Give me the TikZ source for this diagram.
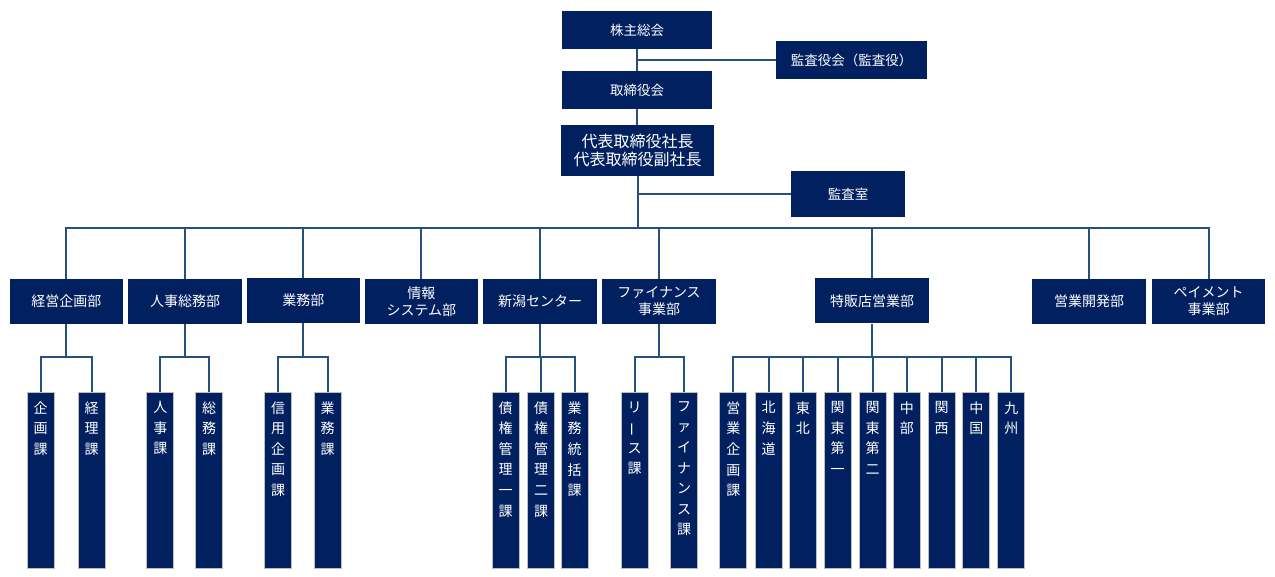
\documentclass[tikz,border=0pt]{standalone}
\usepackage{fontspec}
\usepackage{graphicx}
\newfontfamily\jp{Noto Sans CJK JP}
\definecolor{navy}{RGB}{0,32,96}
\definecolor{linec}{RGB}{38,80,125}
\definecolor{bord}{RGB}{190,190,190}
\newcommand\vbar{\rotatebox[origin=c]{90}{ー}}
\begin{document}
\begin{tikzpicture}[x=1pt,y=-1pt,
  box/.style={fill=navy, draw=none, text=white, inner sep=0pt, align=center, font=\jp\fontsize{13.5}{17}\selectfont},
  dept/.style={box, minimum width=113.5pt, minimum height=45pt, font=\jp\fontsize{14}{17}\selectfont},
  subbox/.style={fill=navy, draw=bord, line width=1pt, minimum width=27pt, minimum height=176.5pt, inner sep=0pt},
  vtext/.style={text=white, anchor=north, inner sep=0pt, align=center, font=\jp\fontsize{14}{20.6}\selectfont},
  conn/.style={draw=linec, line width=2pt, line join=miter}]
\useasboundingbox (0,0) rectangle (1275,577);
\fill[white] (0,0) rectangle (1275,577);

% top
\node[box, minimum width=150pt, minimum height=38pt] (kabu) at (637,30) {株主総会};
\node[box, minimum width=151pt, minimum height=38pt] (kansayaku) at (851.5,60) {監査役会（監査役）};
\node[box, minimum width=150pt, minimum height=38pt] (tori) at (637,90) {取締役会};
\node[box, minimum width=153pt, minimum height=51pt, font=\jp\fontsize{16}{17.5}\selectfont] (daihyo) at (637.5,150.5) {代表取締役社長\\代表取締役副社長};
\node[box, minimum width=114pt, minimum height=46pt] (kansa) at (848,194) {監査室};

% departments
\node[dept] (keiei) at (66.3,301.3) {経営企画部};
\node[dept] (jinji) at (185,301.3) {人事総務部};
\node[dept] (gyomu) at (303.3,300.5) {業務部};
\node[dept] (joho) at (421.3,301.3) {情報\\システム部};
\node[dept] (niigata) at (540,301.3) {新潟センター};
\node[dept] (fin) at (659,301.3) {ファイナンス\\事業部};
\node[dept] (toku) at (872,301) {特販店営業部};
\node[dept] (eigyo) at (1089,301.3) {営業開発部};
\node[dept] (pay) at (1208.5,301.3) {ペイメント\\事業部};

\newcommand\mysub[3]{%
  \node[subbox] (#1) at (#2,480.5) {};
  \node[vtext] (#1t) at ([yshift=-9.5pt]#1.north) {#3};}

\mysub{k1}{40.5}{企\\画\\課}
\mysub{k2}{91.5}{経\\理\\課}
\mysub{j1}{160.3}{人\\事\\課}
\mysub{j2}{209}{総\\務\\課}
\mysub{g1}{278}{信\\用\\企\\画\\課}
\mysub{g2}{327.5}{業\\務\\課}
\mysub{n1}{505.7}{債\\権\\管\\理\\一\\課}
\mysub{n2}{541}{債\\権\\管\\理\\二\\課}
\mysub{n3}{574.5}{業\\務\\統\\括\\課}
\mysub{f1}{634.5}{リ\\\vbar\\ス\\課}
\mysub{f2}{684}{フ\\ァ\\イ\\ナ\\ン\\ス\\課}
\mysub{t1}{733.3}{営\\業\\企\\画\\課}
\mysub{t2}{768.5}{北\\海\\道}
\mysub{t3}{802.8}{東\\北}
\mysub{t4}{837.5}{関\\東\\第\\一}
\mysub{t5}{872.5}{関\\東\\第\\二}
\mysub{t6}{906.8}{中\\部}
\mysub{t7}{941.5}{関\\西}
\mysub{t8}{976.3}{中\\国}
\mysub{t9}{1011.3}{九\\州}

% top connectors
\coordinate (bus) at (637.5,227.7);
\coordinate (sb) at (0,357);
\draw[conn] (kabu.south) -- (kabu.south |- tori.north);
\draw[conn] (tori.south) -- (tori.south |- daihyo.north);
\draw[conn] (kabu.south |- kansayaku.west) -- (kansayaku.west);
\draw[conn] (daihyo.south |- kansa.west) -- (kansa.west);
\draw[conn] (daihyo.south) -- (daihyo.south |- bus);
\draw[conn] (keiei.north) -- (keiei.north |- bus) -- (pay.north |- bus) -- (pay.north);
\foreach \d in {jinji,gyomu,joho,niigata,fin,toku,eigyo}
  \draw[conn] (\d.north) -- (\d.north |- bus);

% sub connectors
\draw[conn] (keiei.south) -- (keiei.south |- sb);
\draw[conn] (k1.north) -- (k1.north |- sb) -- (k2.north |- sb) -- (k2.north);
\draw[conn] (jinji.south) -- (jinji.south |- sb);
\draw[conn] (j1.north) -- (j1.north |- sb) -- (j2.north |- sb) -- (j2.north);
\draw[conn] (gyomu.south) -- (gyomu.south |- sb);
\draw[conn] (g1.north) -- (g1.north |- sb) -- (g2.north |- sb) -- (g2.north);
\draw[conn] (niigata.south) -- (niigata.south |- sb);
\draw[conn] (n1.north) -- (n1.north |- sb) -- (n3.north |- sb) -- (n3.north);
\draw[conn] (n2.north) -- (n2.north |- sb);
\draw[conn] (fin.south) -- (fin.south |- sb);
\draw[conn] (f1.north) -- (f1.north |- sb) -- (f2.north |- sb) -- (f2.north);
\draw[conn] (toku.south) -- (toku.south |- sb);
\draw[conn] (t1.north) -- (t1.north |- sb) -- (t9.north |- sb) -- (t9.north);
\foreach \s in {t2,t3,t4,t5,t6,t7,t8}
  \draw[conn] (\s.north) -- (\s.north |- sb);
\end{tikzpicture}
\end{document}
